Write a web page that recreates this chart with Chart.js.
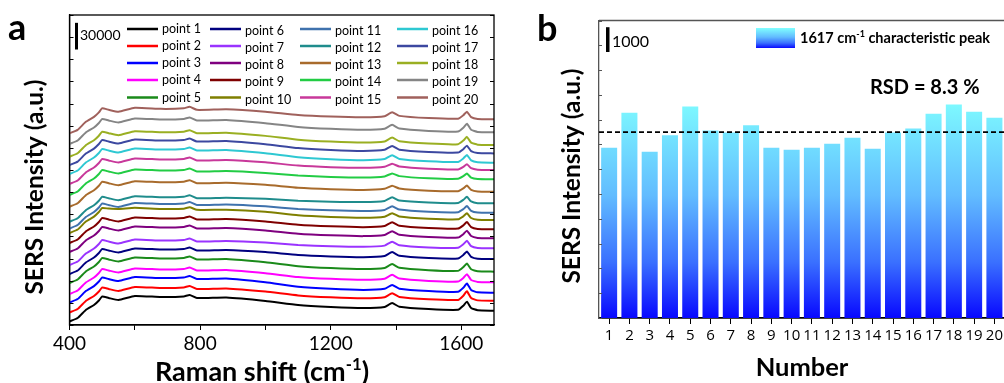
<!DOCTYPE html>
<html><head><meta charset="utf-8">
<script src="https://cdn.jsdelivr.net/npm/chart.js@4.4.1/dist/chart.umd.min.js"></script>
<style>
html,body{margin:0;padding:0;background:#fff;overflow:hidden;width:1004px;height:383px;}
#ca{position:absolute;left:0;top:0;}
#cb{position:absolute;left:530px;top:0;}
</style></head><body>
<canvas id="ca" width="530" height="383"></canvas>
<canvas id="cb" width="476" height="383"></canvas>
<script>
// ---------- Panel a: SERS spectra (counts, vertically stacked) ----------
const ramanShift = [400, 425, 450, 475, 490, 500, 520, 550, 600, 680, 750, 768, 790, 880, 1000, 1100, 1200, 1300, 1365, 1388, 1410, 1500, 1590, 1606, 1617, 1630, 1650, 1700];
const point1  = [4000, 7900, 16900, 22500, 27600, 32100, 30400, 28200, 32700, 31500, 32100, 33800, 30400, 31000, 27100, 22500, 20300, 19100, 20300, 24700, 20500, 17900, 17100, 21700, 26300, 19100, 16600, 16100];
const point2  = [14100, 18000, 27000, 32600, 37700, 42200, 40500, 38300, 42800, 41600, 42200, 43900, 40500, 41100, 37600, 33300, 31200, 30100, 31300, 35700, 31500, 28900, 28200, 33000, 38000, 30400, 27700, 27300];
const point3  = [25300, 29200, 38200, 43800, 48900, 53400, 51700, 49500, 54000, 52800, 53400, 55100, 51700, 52300, 48100, 43100, 40700, 39500, 40700, 45000, 40900, 38200, 37300, 41900, 46600, 39400, 36800, 36300];
const point4  = [34900, 38800, 47800, 53400, 58500, 63000, 61300, 59100, 63600, 62400, 63000, 64700, 61300, 61900, 58300, 54000, 51900, 50800, 52000, 56400, 52200, 49600, 48900, 53000, 57200, 50700, 48400, 48000];
const point5  = [47300, 51200, 60200, 65800, 70900, 75400, 73700, 71500, 76000, 74800, 75400, 77100, 73700, 74300, 70600, 66200, 64000, 62900, 64100, 68500, 64300, 61700, 60900, 65100, 69200, 62700, 60500, 60000];
const point6  = [57400, 61300, 70300, 75900, 81000, 85500, 83800, 81600, 86100, 84900, 85500, 87200, 83800, 84400, 82000, 78700, 77100, 76300, 77600, 82000, 77900, 75400, 74900, 78800, 82700, 76700, 74500, 74200];
const point7  = [67500, 71400, 80400, 86000, 91100, 95600, 93900, 91700, 96200, 95000, 95600, 97300, 93900, 94500, 92700, 90000, 88700, 88100, 89300, 93800, 89700, 87300, 86900, 90800, 94700, 88700, 86600, 86300];
const point8  = [82200, 86100, 95100, 100700, 105800, 110300, 108600, 106400, 110900, 109700, 110300, 112000, 108600, 109200, 106400, 102700, 100900, 100000, 101200, 105600, 101500, 99000, 98400, 102200, 106200, 100100, 98000, 97600];
const point9  = [92300, 96200, 105200, 110800, 115900, 120400, 118700, 116500, 121000, 119800, 120400, 122100, 118700, 119300, 116500, 112800, 111000, 110100, 111300, 115700, 111600, 109100, 108500, 112100, 115800, 110100, 108100, 107700];
const point10 = [103500, 107400, 116400, 122000, 127100, 131600, 131000, 130600, 131800, 130600, 130800, 132500, 129600, 129800, 127400, 123500, 121600, 120700, 121900, 125800, 122100, 119600, 118900, 122300, 125700, 120400, 118500, 118100];
const point11 = [108600, 112500, 121500, 127100, 132200, 136700, 135000, 132800, 137300, 136100, 136700, 138400, 135000, 135600, 133500, 130500, 129000, 128300, 129500, 133500, 129900, 127400, 126900, 130300, 133800, 128500, 126600, 126300];
const point12 = [116200, 120100, 129100, 134700, 139800, 144300, 142600, 140400, 144900, 143700, 144300, 146000, 142600, 143200, 142000, 139900, 138800, 138300, 139600, 143600, 140000, 137700, 137300, 140800, 144200, 139000, 137100, 136900];
const point13 = [133100, 137000, 146000, 151600, 156700, 161200, 159500, 157300, 161800, 160600, 161200, 162900, 159500, 160100, 157700, 154400, 152800, 152000, 153300, 156700, 153600, 151100, 150600, 153800, 156900, 152000, 150200, 149900];
const point14 = [146300, 150200, 159200, 164800, 169900, 174400, 172700, 170500, 175000, 173800, 174400, 176100, 172700, 173300, 171100, 168100, 166600, 165900, 167100, 170600, 167500, 165100, 164500, 167400, 170400, 165800, 164200, 163900];
const point15 = [158700, 162600, 171600, 177200, 182300, 186800, 185100, 182900, 187400, 186200, 186800, 188500, 185100, 185700, 183000, 179400, 177600, 176800, 178000, 181400, 178300, 175800, 175100, 178000, 181000, 176400, 174800, 174400];
const point16 = [169900, 173800, 182800, 188400, 193500, 198000, 196300, 194100, 198600, 197400, 198000, 199700, 196300, 196900, 193200, 188800, 186600, 185500, 186700, 191100, 186900, 184300, 183500, 187400, 191300, 185200, 183100, 182600];
const point17 = [180000, 183900, 192900, 198500, 203600, 208100, 206400, 204200, 208700, 207500, 208100, 209800, 206400, 207000, 203400, 199100, 197000, 195900, 197100, 201500, 197300, 194700, 194000, 197800, 201800, 195700, 193500, 193100];
const point18 = [189400, 193300, 202300, 207900, 213000, 217500, 215800, 213600, 218100, 216900, 217500, 219200, 215800, 216400, 212800, 208500, 206400, 205300, 206500, 210900, 206700, 204100, 203400, 207500, 211700, 205200, 202900, 202500];
const point19 = [203700, 207600, 216600, 222200, 227300, 231800, 230100, 227900, 232400, 231200, 231800, 233500, 230100, 230700, 227100, 222800, 220700, 219600, 220800, 225200, 221000, 218400, 217700, 222000, 226500, 219600, 217200, 216800];
const point20 = [215700, 219600, 228600, 234200, 239300, 243800, 242100, 239900, 244400, 243200, 243800, 245500, 242100, 242700, 240000, 236400, 234600, 233800, 235000, 239400, 235300, 232800, 232100, 236000, 240000, 233900, 231800, 231400];
const spectraSeries = [point1, point2, point3, point4, point5, point6, point7, point8, point9, point10,
                       point11, point12, point13, point14, point15, point16, point17, point18, point19, point20];
const pointLabels = ['point 1','point 2','point 3','point 4','point 5','point 6','point 7','point 8','point 9','point 10',
                     'point 11','point 12','point 13','point 14','point 15','point 16','point 17','point 18','point 19','point 20'];
const ramanTicks = [400, 600, 800, 1000, 1200, 1400, 1600];
const ramanTickLabels = [400, 800, 1200, 1600];
const scaleBarA = 30000;
const scaleBarALabel = '30000';

// ---------- Panel b: 1617 cm-1 peak intensity ----------
const numberLabels = ['1','2','3','4','5','6','7','8','9','10','11','12','13','14','15','16','17','18','19','20'];
const peak1617 = [6870, 8280, 6710, 7370, 8530, 7560, 7480, 7770, 6870, 6790, 6870, 7030, 7270, 6830, 7480, 7640, 8240, 8610, 8320, 8080];
const peak1617Mean = 7500;
const rsdLabel = 'RSD = 8.3 %';
const scaleBarB = 1000;
const scaleBarBLabel = '1000';

// ---------- styles ----------
const lineColors = ['#000000','#ff0000','#0000ff','#ff00ff','#1a8a1a','#00007f','#9a33ff','#7f007f','#7f0000','#7f7f00',
                    '#3f72ad','#1f8c8c','#a86b2c','#22cc44','#c8389a','#2ec8d2','#3c48a0','#9aaf22','#858585','#a0615c'];
const FONT = 'Lato, "Open Sans", sans-serif';

function richText(ctx, parts, x, y, align, size, bold) {
  const f = s => (bold ? 'bold ' : '') + s + 'px ' + FONT;
  let w = 0;
  parts.forEach(p => { ctx.font = f(p[1] ? size * 0.62 : size); w += ctx.measureText(p[0]).width; });
  let cx = align === 'center' ? x - w / 2 : (align === 'right' ? x - w : x);
  ctx.textAlign = 'left'; ctx.textBaseline = 'alphabetic';
  parts.forEach(p => {
    const s = p[1] ? size * 0.62 : size;
    ctx.font = f(s);
    ctx.fillText(p[0], cx, p[1] ? y - size * 0.4 : y);
    cx += ctx.measureText(p[0]).width;
  });
}
function vText(ctx, txt, x, y, size) {
  ctx.save(); ctx.translate(x, y); ctx.rotate(-Math.PI / 2);
  ctx.font = 'bold ' + size + 'px ' + FONT; ctx.textAlign = 'center'; ctx.textBaseline = 'middle';
  ctx.fillStyle = '#000'; ctx.fillText(txt, 0, 0); ctx.restore();
}

// ---------- Chart a ----------
const decorA = {
  id: 'decorA',
  afterDraw(chart) {
    const ctx = chart.ctx, a = chart.chartArea, ys = chart.scales.y;
    ctx.save();
    ctx.strokeStyle = '#000'; ctx.lineWidth = 1.3;
    ctx.strokeRect(a.left, a.top, a.right - a.left, a.bottom - a.top);
    ctx.lineWidth = 1;
    ys.ticks.forEach(t => {
      const py = Math.round(ys.getPixelForValue(t.value)) + 0.5;
      ctx.beginPath(); ctx.moveTo(a.left, py); ctx.lineTo(a.left + 4, py);
      ctx.moveTo(a.right, py); ctx.lineTo(a.right - 4, py); ctx.stroke();
    });
    const len = ys.getPixelForValue(0) - ys.getPixelForValue(scaleBarA);
    ctx.fillStyle = '#000';
    ctx.fillRect(75, 49.5 - len, 3, len);
    ctx.font = '14px ' + FONT; ctx.textAlign = 'left'; ctx.textBaseline = 'alphabetic';
    ctx.fillText(scaleBarALabel, 80, 40);
    const colLine = [127, 210, 300, 397], colText = [162, 245, 335, 432], rowY = [29, 46, 63, 80, 97.5];
    chart.data.datasets.forEach((ds, i) => {
      const c = Math.floor(i / 5), r = i % 5;
      ctx.strokeStyle = ds.borderColor; ctx.lineWidth = 2.5;
      ctx.beginPath(); ctx.moveTo(colLine[c], rowY[r]); ctx.lineTo(colLine[c] + 31, rowY[r]); ctx.stroke();
      ctx.fillStyle = '#000'; ctx.font = '12.5px ' + FONT; ctx.textBaseline = 'middle';
      ctx.fillText(ds.label, colText[c], rowY[r] + (c === 0 ? 0 : 2));
    });
    ctx.fillStyle = '#000'; ctx.textBaseline = 'alphabetic';
    ctx.font = 'bold 36px ' + FONT; ctx.fillText('a', 8, 40);
    vText(ctx, 'SERS Intensity (a.u.)', 35, 187, 24.5);
    richText(ctx, [['Raman shift (cm', false], ['-1', true], [')', false]], 262, 381, 'center', 27, true);
    ctx.restore();
  }
};

new Chart(document.getElementById('ca'), {
  type: 'line',
  data: {
    datasets: spectraSeries.map((s, i) => ({
      label: pointLabels[i],
      data: ramanShift.map((x, j) => ({ x: x, y: s[j] })),
      borderColor: lineColors[i], borderWidth: 2, pointRadius: 0, tension: 0.15, fill: false
    }))
  },
  options: {
    responsive: false, animation: false,
    layout: { padding: { left: 0, top: 15, right: 36, bottom: 0 } },
    plugins: { legend: { display: false }, tooltip: { enabled: false } },
    scales: {
      x: {
        type: 'linear', min: 400, max: 1700,
        afterFit: s => { s.height = 58; },
        afterBuildTicks: s => { s.ticks = ramanTicks.map(v => ({ value: v })); },
        ticks: { autoSkip: false, maxRotation: 0, color: '#000', padding: 2,
                 font: { family: FONT, size: 19 },
                 callback: v => ramanTickLabels.includes(v) ? String(v) : '' },
        grid: { drawOnChartArea: false, drawTicks: true, tickLength: 5, tickColor: '#000', tickWidth: 1 },
        border: { display: true, color: '#000', width: 1.3 }
      },
      y: {
        min: 0, max: 348800,
        afterFit: s => { s.width = 69.5; },
        ticks: { display: false, stepSize: 25000 },
        grid: { display: false },
        border: { display: true, color: '#000', width: 1.3 }
      }
    }
  },
  plugins: [decorA]
});

// ---------- Chart b ----------
function barGradient(ctx, top, bottom) {
  const g = ctx.createLinearGradient(0, top, 0, bottom);
  g.addColorStop(0, '#80ffff');
  g.addColorStop(0.45, '#62bcff');
  g.addColorStop(0.75, '#3a70ff');
  g.addColorStop(1, '#0808ff');
  return g;
}
const decorB = {
  id: 'decorB',
  afterDraw(chart) {
    const ctx = chart.ctx, a = chart.chartArea, ys = chart.scales.y;
    ctx.save();
    ctx.strokeStyle = '#555'; ctx.lineWidth = 1.3;
    ctx.beginPath(); ctx.moveTo(a.left, a.top); ctx.lineTo(a.right, a.top); ctx.stroke();
    ctx.strokeStyle = '#555'; ctx.lineWidth = 1;
    ys.ticks.forEach(t => {
      const py = Math.round(ys.getPixelForValue(t.value)) + 0.5;
      ctx.beginPath(); ctx.moveTo(a.left, py); ctx.lineTo(a.left + 3, py); ctx.stroke();
    });
    const my = ys.getPixelForValue(peak1617Mean);
    ctx.strokeStyle = '#000'; ctx.lineWidth = 1.8; ctx.setLineDash([5, 3]);
    ctx.beginPath(); ctx.moveTo(a.left, my); ctx.lineTo(a.right, my); ctx.stroke();
    ctx.setLineDash([]);
    const len = ys.getPixelForValue(0) - ys.getPixelForValue(scaleBarB);
    ctx.fillStyle = '#000';
    ctx.fillRect(76, 52 - len, 3.5, len);
    ctx.font = '16px ' + FONT; ctx.textAlign = 'left'; ctx.textBaseline = 'alphabetic';
    ctx.fillText(scaleBarBLabel, 82, 47);
    ctx.fillStyle = barGradient(ctx, 28, 48);
    ctx.fillRect(226, 28, 39, 20);
    ctx.fillStyle = '#000';
    richText(ctx, [['1617 cm', false], ['-1', true], [' characteristic peak', false]], 270, 43, 'left', 14.5, true);
    ctx.font = 'bold 20px ' + FONT; ctx.textAlign = 'left';
    ctx.fillText(rsdLabel, 340, 94);
    ctx.font = 'bold 36px ' + FONT; ctx.fillText('b', 7, 41);
    vText(ctx, 'SERS Intensity (a.u.)', 42, 176, 24.5);
    richText(ctx, [['Number', false]], 272, 376, 'center', 25.5, true);
    ctx.restore();
  }
};

new Chart(document.getElementById('cb'), {
  type: 'bar',
  data: {
    labels: numberLabels,
    datasets: [{
      label: '1617 cm-1 characteristic peak',
      data: peak1617,
      backgroundColor: c => {
        const ch = c.chart; if (!ch.chartArea) return '#80ffff';
        return barGradient(ch.ctx, ch.scales.y.getPixelForValue(9000), ch.chartArea.bottom);
      },
      borderWidth: 0, barPercentage: 0.79, categoryPercentage: 1.0
    }]
  },
  options: {
    responsive: false, animation: false,
    layout: { padding: { left: 0, top: 20.5, right: 1, bottom: 0 } },
    plugins: { legend: { display: false }, tooltip: { enabled: false } },
    scales: {
      x: {
        afterFit: s => { s.height = 65; },
        ticks: { color: '#000', padding: 3, autoSkip: false, maxRotation: 0,
                 font: { family: '"Liberation Sans Narrow", "Open Sans", sans-serif', size: 15 } },
        grid: { drawOnChartArea: false, drawTicks: true, tickLength: 6, tickColor: '#000', tickWidth: 1, offset: false },
        border: { display: true, color: '#000', width: 1.8 }
      },
      y: {
        min: 0, max: 12000,
        afterFit: s => { s.width = 69; },
        ticks: { display: false, stepSize: 1000 },
        grid: { display: false },
        border: { display: true, color: '#555', width: 1.3 }
      }
    }
  },
  plugins: [decorB]
});
</script>
</body></html>
